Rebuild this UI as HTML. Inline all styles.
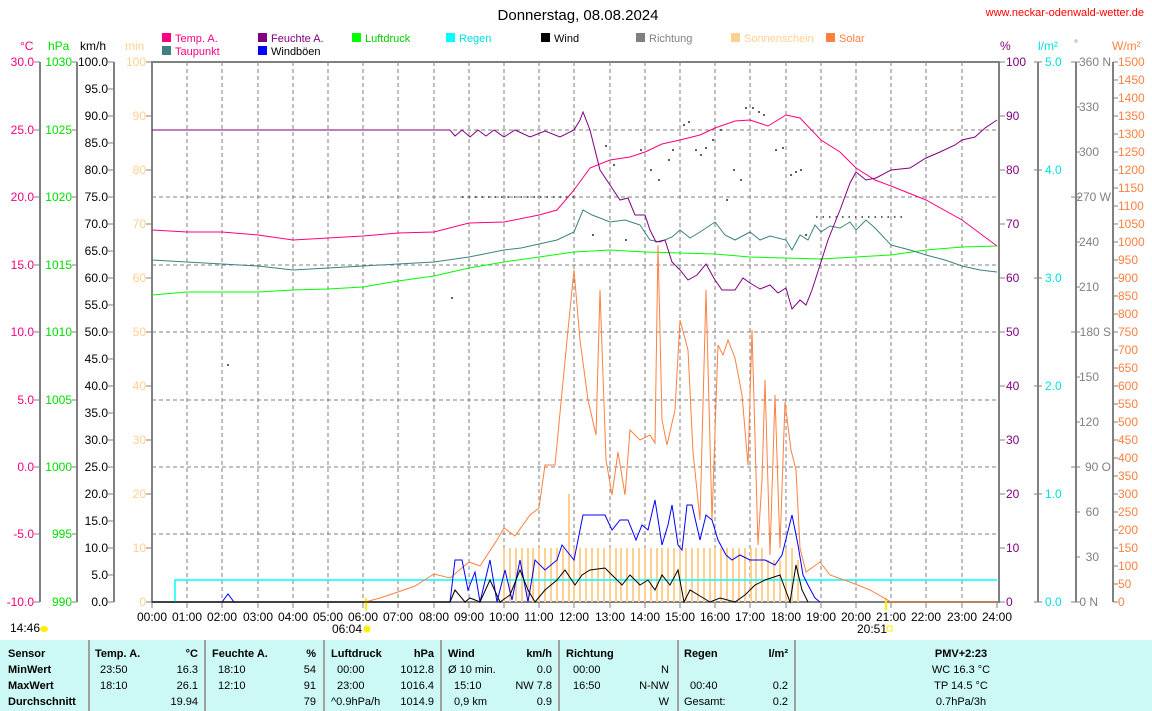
<!DOCTYPE html>
<html><head><meta charset="utf-8"><style>
html,body{margin:0;padding:0;background:#fff}
svg{display:block;font-family:"Liberation Sans",sans-serif;font-size:12px}
</style></head><body>
<svg width="1152" height="711" viewBox="0 0 1152 711" xmlns="http://www.w3.org/2000/svg">
<rect width="1152" height="711" fill="#fff"/>
<text x="578" y="20" text-anchor="middle" font-size="15" fill="#000">Donnerstag, 08.08.2024</text>
<text x="1144" y="16" text-anchor="end" font-size="11" fill="#ff0000">www.neckar-odenwald-wetter.de</text>

<!-- legend -->
<g font-size="11">
<rect x="162" y="33" width="9" height="9" fill="#ff0080"/><text x="175" y="42" fill="#ff0080">Temp. A.</text>
<rect x="162" y="46" width="9" height="9" fill="#408080"/><text x="175" y="55" fill="#ff0080">Taupunkt</text>
<rect x="258" y="33" width="9" height="9" fill="#800080"/><text x="271" y="42" fill="#800080">Feuchte A.</text>
<rect x="258" y="46" width="9" height="9" fill="#0000ff"/><text x="271" y="55" fill="#000">Windböen</text>
<rect x="352" y="33" width="9" height="9" fill="#00ff00"/><text x="365" y="42" fill="#00cc00">Luftdruck</text>
<rect x="446" y="33" width="9" height="9" fill="#00ffff"/><text x="459" y="42" fill="#00e0e0">Regen</text>
<rect x="541" y="33" width="9" height="9" fill="#000"/><text x="554" y="42" fill="#000">Wind</text>
<rect x="636" y="33" width="9" height="9" fill="#808080"/><text x="649" y="42" fill="#808080">Richtung</text>
<rect x="731" y="33" width="9" height="9" fill="#ffd090"/><text x="744" y="42" fill="#ffd090">Sonnenschein</text>
<rect x="826" y="33" width="9" height="9" fill="#ff8040"/><text x="839" y="42" fill="#ff8040">Solar</text>
</g>

<!-- axis headers -->
<text x="20" y="50" fill="#ff0080">°C</text>
<text x="48" y="50" fill="#00dd00">hPa</text>
<text x="80" y="50" fill="#000">km/h</text>
<text x="125" y="50" fill="#ffd090">min</text>
<text x="1000" y="50" fill="#800080">%</text>
<text x="1038" y="50" fill="#00e0e0">l/m²</text>
<text x="1074" y="47" fill="#808080" font-size="10">°</text>
<text x="1112" y="50" fill="#ff8040">W/m²</text>

<!-- grid -->
<g stroke="#808080" stroke-width="1" stroke-dasharray="4,3">
<path d="M187,62V602M222,62V602M258,62V602M293,62V602M328,62V602M363,62V602M398,62V602M434,62V602M469,62V602M504,62V602M539,62V602M574,62V602M610,62V602M645,62V602M680,62V602M715,62V602M750,62V602M786,62V602M821,62V602M856,62V602M891,62V602M926,62V602M962,62V602"/>
<path d="M152,130H999M152,197H999M152,265H999M152,332H999M152,400H999M152,467H999M152,534H999"/>
</g>

<!-- left axes -->
<g stroke="#808080" stroke-width="2" fill="none">
<path d="M40,62V602M77,62V602M114,62V602"/>
<rect x="152" y="62" width="847" height="540"/>
<path d="M1038,62V602M1076,62V602M1113,62V602"/>
</g>
<g stroke="#808080" stroke-width="1">
<path d="M34,62H40M34,130H40M34,197H40M34,265H40M34,332H40M34,400H40M34,467H40M34,534H40M34,602H40"/>
<path d="M72,62H77M72,130H77M72,197H77M72,265H77M72,332H77M72,400H77M72,467H77M72,534H77M72,602H77"/>
<path d="M108,62H114M108,89H114M108,116H114M108,143H114M108,170H114M108,197H114M108,224H114M108,251H114M108,278H114M108,305H114M108,332H114M108,359H114M108,386H114M108,413H114M108,440H114M108,467H114M108,494H114M108,521H114M108,548H114M108,575H114M108,602H114"/>
<path d="M146,62H151M146,116H151M146,170H151M146,224H151M146,278H151M146,332H151M146,386H151M146,440H151M146,494H151M146,548H151M146,602H151"/>
<path d="M1000,62H1005M1000,116H1005M1000,170H1005M1000,224H1005M1000,278H1005M1000,332H1005M1000,386H1005M1000,440H1005M1000,494H1005M1000,548H1005M1000,602H1005"/>
<path d="M1034,62H1042M1034,170H1042M1034,278H1042M1034,386H1042M1034,494H1042M1034,602H1042"/>
<path d="M1071,62H1080M1076,107H1080M1076,152H1080M1071,197H1080M1076,242H1080M1076,287H1080M1071,332H1080M1076,377H1080M1076,422H1080M1071,467H1080M1076,512H1080M1076,557H1080M1071,602H1080"/>
<path d="M1113,62H1118M1113,80H1118M1113,98H1118M1113,116H1118M1113,134H1118M1113,152H1118M1113,170H1118M1113,188H1118M1113,206H1118M1113,224H1118M1113,242H1118M1113,260H1118M1113,278H1118M1113,296H1118M1113,314H1118M1113,332H1118M1113,350H1118M1113,368H1118M1113,386H1118M1113,404H1118M1113,422H1118M1113,440H1118M1113,458H1118M1113,476H1118M1113,494H1118M1113,512H1118M1113,530H1118M1113,548H1118M1113,566H1118M1113,584H1118M1113,602H1118"/>
<path d="M152,602V608M187,602V608M222,602V608M258,602V608M293,602V608M328,602V608M363,602V608M398,602V608M434,602V608M469,602V608M504,602V608M539,602V608M574,602V608M610,602V608M645,602V608M680,602V608M715,602V608M750,602V608M786,602V608M821,602V608M856,602V608M891,602V608M926,602V608M962,602V608M997,602V608"/>
</g>

<g fill="#ff0080" text-anchor="end">
<text x="34" y="66">30.0</text><text x="34" y="134">25.0</text><text x="34" y="201">20.0</text><text x="34" y="269">15.0</text><text x="34" y="336">10.0</text><text x="34" y="404">5.0</text><text x="34" y="471">0.0</text><text x="34" y="538">-5.0</text><text x="34" y="606">-10.0</text>
</g>
<g fill="#00dd00" text-anchor="end">
<text x="72" y="66">1030</text><text x="72" y="134">1025</text><text x="72" y="201">1020</text><text x="72" y="269">1015</text><text x="72" y="336">1010</text><text x="72" y="404">1005</text><text x="72" y="471">1000</text><text x="72" y="538">995</text><text x="72" y="606">990</text>
</g>
<g fill="#000" text-anchor="end">
<text x="108" y="66">100.0</text><text x="108" y="93">95.0</text><text x="108" y="120">90.0</text><text x="108" y="147">85.0</text><text x="108" y="174">80.0</text><text x="108" y="201">75.0</text><text x="108" y="228">70.0</text><text x="108" y="255">65.0</text><text x="108" y="282">60.0</text><text x="108" y="309">55.0</text><text x="108" y="336">50.0</text><text x="108" y="363">45.0</text><text x="108" y="390">40.0</text><text x="108" y="417">35.0</text><text x="108" y="444">30.0</text><text x="108" y="471">25.0</text><text x="108" y="498">20.0</text><text x="108" y="525">15.0</text><text x="108" y="552">10.0</text><text x="108" y="579">5.0</text><text x="108" y="606">0.0</text>
</g>
<g fill="#ffd090" text-anchor="end">
<text x="146" y="66">100</text><text x="146" y="120">90</text><text x="146" y="174">80</text><text x="146" y="228">70</text><text x="146" y="282">60</text><text x="146" y="336">50</text><text x="146" y="390">40</text><text x="146" y="444">30</text><text x="146" y="498">20</text><text x="146" y="552">10</text><text x="146" y="606">0</text>
</g>
<g fill="#800080">
<text x="1006" y="66">100</text><text x="1006" y="120">90</text><text x="1006" y="174">80</text><text x="1006" y="228">70</text><text x="1006" y="282">60</text><text x="1006" y="336">50</text><text x="1006" y="390">40</text><text x="1006" y="444">30</text><text x="1006" y="498">20</text><text x="1006" y="552">10</text><text x="1006" y="606">0</text>
</g>
<g fill="#00e0e0">
<text x="1045" y="66">5.0</text><text x="1045" y="174">4.0</text><text x="1045" y="282">3.0</text><text x="1045" y="390">2.0</text><text x="1045" y="498">1.0</text><text x="1045" y="606">0.0</text>
</g>
<g fill="#808080" text-anchor="end">
<text x="1111" y="66">360 N</text><text x="1099" y="111">330</text><text x="1099" y="156">300</text><text x="1111" y="201">270 W</text><text x="1099" y="246">240</text><text x="1099" y="291">210</text><text x="1111" y="336">180 S</text><text x="1099" y="381">150</text><text x="1099" y="426">120</text><text x="1111" y="471">90 O</text><text x="1099" y="516">60</text><text x="1099" y="561">30</text><text x="1098" y="606">0 N</text>
</g>
<g fill="#ff8040">
<text x="1118" y="66">1500</text><text x="1118" y="84">1450</text><text x="1118" y="102">1400</text><text x="1118" y="120">1350</text><text x="1118" y="138">1300</text><text x="1118" y="156">1250</text><text x="1118" y="174">1200</text><text x="1118" y="192">1150</text><text x="1118" y="210">1100</text><text x="1118" y="228">1050</text><text x="1118" y="246">1000</text><text x="1118" y="264">950</text><text x="1118" y="282">900</text><text x="1118" y="300">850</text><text x="1118" y="318">800</text><text x="1118" y="336">750</text><text x="1118" y="354">700</text><text x="1118" y="372">650</text><text x="1118" y="390">600</text><text x="1118" y="408">550</text><text x="1118" y="426">500</text><text x="1118" y="444">450</text><text x="1118" y="462">400</text><text x="1118" y="480">350</text><text x="1118" y="498">300</text><text x="1118" y="516">250</text><text x="1118" y="534">200</text><text x="1118" y="552">150</text><text x="1118" y="570">100</text><text x="1118" y="588">50</text><text x="1118" y="606">0</text>
</g>

<!-- hour labels -->
<g fill="#000" text-anchor="middle">
<text x="152" y="621">00:00</text><text x="187" y="621">01:00</text><text x="222" y="621">02:00</text><text x="258" y="621">03:00</text><text x="293" y="621">04:00</text><text x="328" y="621">05:00</text><text x="363" y="621">06:00</text><text x="398" y="621">07:00</text><text x="434" y="621">08:00</text><text x="469" y="621">09:00</text><text x="504" y="621">10:00</text><text x="539" y="621">11:00</text><text x="574" y="621">12:00</text><text x="610" y="621">13:00</text><text x="645" y="621">14:00</text><text x="680" y="621">15:00</text><text x="715" y="621">16:00</text><text x="750" y="621">17:00</text><text x="786" y="621">18:00</text><text x="821" y="621">19:00</text><text x="856" y="621">20:00</text><text x="891" y="621">21:00</text><text x="926" y="621">22:00</text><text x="962" y="621">23:00</text><text x="997" y="621">24:00</text>
</g>
<text x="10" y="632" fill="#000">14:46</text><ellipse cx="44" cy="629" rx="4" ry="3" fill="#ffee00"/>
<text x="332" y="633" fill="#000">06:04</text><circle cx="367" cy="629" r="3.5" fill="#ffee00"/>
<text x="857" y="633" fill="#000">20:51</text><rect x="887" y="626" width="5" height="5" fill="none" stroke="#ffee00"/>
<path d="M366,598V610M886,598V610" stroke="#ffee00" stroke-width="2"/>

<!-- sunshine bars -->
<path d="M504,602V548M510,602V548M516,602V548M522,602V548M528,602V548M533,602V548M539,602V548M545,602V548M551,602V548M557,602V548M563,602V548M569,602V494M574,602V548M580,602V548M586,602V548M592,602V548M598,602V548M604,602V548M610,602V548M616,602V548M621,602V548M627,602V548M633,602V548M639,602V548M645,602V548M651,602V548M657,602V548M662,602V548M668,602V548M674,602V548M680,602V548M686,602V548M692,602V548M698,602V548M704,602V548M710,602V548M715,602V548M721,602V548M727,602V548M733,602V548M739,602V548M745,602V548M751,602V548M756,602V548M762,602V548M768,602V560M774,602V560M780,602V560M786,602V548M792,602V548M798,602V560" stroke="#ffd090" stroke-width="2"/>

<!-- rain -->
<path d="M175,602V580H997" stroke="#00ffff" stroke-width="1.5" fill="none"/>

<!-- series -->
<g fill="none" stroke-width="1">
<polyline stroke="#00ff00" points="152,295 187,292 222,292 258,292 293,290 328,289 363,287 398,281 434,276 469,268 504,262 539,257 574,252 610,250 645,252 680,253 715,254 750,257 786,258 821,259 856,257 891,255 926,250 962,247 997,246"/>
<polyline stroke="#408080" points="152,260 187,262 222,264 258,266 293,270 328,268 363,266 398,264 434,262 469,257 504,250 521,248 539,244 557,240 574,232 583,210 592,215 600,218 610,222 625,220 640,225 650,240 660,242 672,237 680,230 690,238 700,232 715,222 725,235 735,240 750,232 760,240 770,236 786,240 792,250 800,235 808,240 815,225 821,232 830,226 840,228 850,222 856,230 866,220 875,228 891,245 910,250 926,255 945,260 962,266 980,270 997,272"/>
<polyline stroke="#ff0080" points="152,230 187,232 222,232 258,235 293,240 328,238 363,236 398,233 434,232 469,223 504,222 539,215 557,210 574,190 590,168 610,160 630,157 645,152 662,144 680,140 700,135 715,128 735,121 750,120 768,126 786,115 800,118 821,140 840,152 856,168 875,180 891,186 926,200 962,220 997,246"/>
<polyline stroke="#800080" points="152,130 450,130 455,136 462,130 470,137 478,130 486,136 494,130 504,137 515,130 530,137 545,131 560,137 574,130 580,120 583,112 590,130 600,170 610,185 620,200 628,198 635,215 645,215 650,230 656,242 665,240 672,262 680,270 688,280 697,275 706,264 715,280 722,290 735,290 743,278 750,283 760,289 770,285 778,293 786,288 792,309 800,300 806,305 812,290 821,262 828,240 840,210 850,183 856,172 866,180 876,178 891,170 910,168 926,158 940,152 955,145 962,140 975,137 985,128 997,120"/>
<polyline stroke="#ff8040" points="152,602 365,602 380,598 398,592 415,586 434,574 450,578 469,562 480,566 497,540 504,528 515,536 530,515 539,508 545,465 555,465 568,330 574,270 580,340 588,400 596,435 600,290 606,460 612,495 618,452 625,495 630,430 640,440 650,435 655,443 658,245 662,420 667,445 675,410 680,320 688,350 693,452 700,520 706,290 712,520 718,345 723,355 728,340 735,358 742,395 748,465 752,330 758,545 762,480 765,380 770,555 775,395 780,548 785,402 791,450 796,470 800,548 806,572 820,562 830,575 850,582 870,590 891,602 997,602"/>
<polyline stroke="#0000ff" points="152,602 222,602 228,594 234,602 450,602 455,560 462,560 468,590 475,572 480,602 490,560 497,602 505,570 512,600 520,560 528,602 535,560 545,570 557,560 562,545 574,560 583,515 595,515 605,515 612,530 620,520 628,520 636,540 642,525 648,530 655,500 662,545 668,525 672,505 678,545 682,550 687,505 692,505 700,540 706,515 712,520 718,540 726,555 732,560 740,555 750,560 765,560 775,565 782,555 792,515 798,545 803,575 808,585 815,598 820,602"/>
<polyline stroke="#000" points="152,602 450,602 455,590 465,602 470,598 480,602 490,580 500,602 510,595 520,570 528,590 535,602 545,590 557,580 565,570 575,585 582,575 590,570 605,568 612,575 622,585 630,575 640,585 648,580 655,590 662,575 670,585 678,570 684,602 690,590 700,596 710,602 720,598 735,602 745,595 755,585 765,580 780,575 790,602 796,565 802,590 808,602"/>
</g>

<!-- direction dots -->
<g fill="#606060">
<rect x="227" y="364" width="2" height="2"/><rect x="451" y="297" width="2" height="2"/><rect x="592" y="234" width="2" height="2"/><rect x="605" y="145" width="2" height="2"/><rect x="613" y="164" width="2" height="2"/><rect x="625" y="239" width="2" height="2"/><rect x="640" y="149" width="2" height="2"/><rect x="650" y="169" width="2" height="2"/><rect x="658" y="179" width="2" height="2"/><rect x="668" y="159" width="2" height="2"/><rect x="672" y="149" width="2" height="2"/><rect x="683" y="124" width="2" height="2"/><rect x="688" y="121" width="2" height="2"/><rect x="695" y="149" width="2" height="2"/><rect x="700" y="154" width="2" height="2"/><rect x="705" y="147" width="2" height="2"/><rect x="712" y="139" width="2" height="2"/><rect x="720" y="129" width="2" height="2"/><rect x="726" y="199" width="2" height="2"/><rect x="733" y="169" width="2" height="2"/><rect x="740" y="179" width="2" height="2"/><rect x="745" y="107" width="2" height="2"/><rect x="752" y="107" width="2" height="2"/><rect x="758" y="111" width="2" height="2"/><rect x="763" y="114" width="2" height="2"/><rect x="775" y="149" width="2" height="2"/><rect x="782" y="147" width="2" height="2"/><rect x="790" y="174" width="2" height="2"/><rect x="795" y="171" width="2" height="2"/><rect x="800" y="169" width="2" height="2"/><rect x="805" y="234" width="2" height="2"/>
</g>
<path d="M462,197H578M816,217H904" stroke="#606060" stroke-width="2" stroke-dasharray="1.5,5"/>

<!-- table -->
<rect x="0" y="640" width="1152" height="71" fill="#ccf8f6"/>
<path d="M89,640V711M205,640V711M324,640V711M441,640V711M559,640V711M678,640V711M795,640V711" stroke="#a0a0a0" stroke-width="2"/>
<g font-size="11" fill="#000">
<g font-weight="bold">
<text x="8" y="657">Sensor</text><text x="8" y="673">MinWert</text><text x="8" y="689">MaxWert</text><text x="8" y="705">Durchschnitt</text>
<text x="95" y="657">Temp. A.</text><text x="198" y="657" text-anchor="end">°C</text>
<text x="212" y="657">Feuchte A.</text><text x="316" y="657" text-anchor="end">%</text>
<text x="331" y="657">Luftdruck</text><text x="434" y="657" text-anchor="end">hPa</text>
<text x="448" y="657">Wind</text><text x="552" y="657" text-anchor="end">km/h</text>
<text x="566" y="657">Richtung</text>
<text x="684" y="657">Regen</text><text x="788" y="657" text-anchor="end">l/m²</text>
<text x="961" y="657" text-anchor="middle">PMV+2:23</text>
</g>
<text x="100" y="673">23:50</text><text x="198" y="673" text-anchor="end">16.3</text>
<text x="100" y="689">18:10</text><text x="198" y="689" text-anchor="end">26.1</text>
<text x="198" y="705" text-anchor="end">19.94</text>
<text x="218" y="673">18:10</text><text x="316" y="673" text-anchor="end">54</text>
<text x="218" y="689">12:10</text><text x="316" y="689" text-anchor="end">91</text>
<text x="316" y="705" text-anchor="end">79</text>
<text x="337" y="673">00:00</text><text x="434" y="673" text-anchor="end">1012.8</text>
<text x="337" y="689">23:00</text><text x="434" y="689" text-anchor="end">1016.4</text>
<text x="331" y="705">^0.9hPa/h</text><text x="434" y="705" text-anchor="end">1014.9</text>
<text x="448" y="673">Ø 10 min.</text><text x="552" y="673" text-anchor="end">0.0</text>
<text x="454" y="689">15:10</text><text x="552" y="689" text-anchor="end">NW 7.8</text>
<text x="454" y="705">0,9 km</text><text x="552" y="705" text-anchor="end">0.9</text>
<text x="573" y="673">00:00</text><text x="669" y="673" text-anchor="end">N</text>
<text x="573" y="689">16:50</text><text x="669" y="689" text-anchor="end">N-NW</text>
<text x="669" y="705" text-anchor="end">W</text>
<text x="690" y="689">00:40</text><text x="788" y="689" text-anchor="end">0.2</text>
<text x="684" y="705">Gesamt:</text><text x="788" y="705" text-anchor="end">0.2</text>
<text x="961" y="673" text-anchor="middle">WC 16.3 °C</text>
<text x="961" y="689" text-anchor="middle">TP 14.5 °C</text>
<text x="961" y="705" text-anchor="middle">0.7hPa/3h</text>
</g>
</svg>
</body></html>
